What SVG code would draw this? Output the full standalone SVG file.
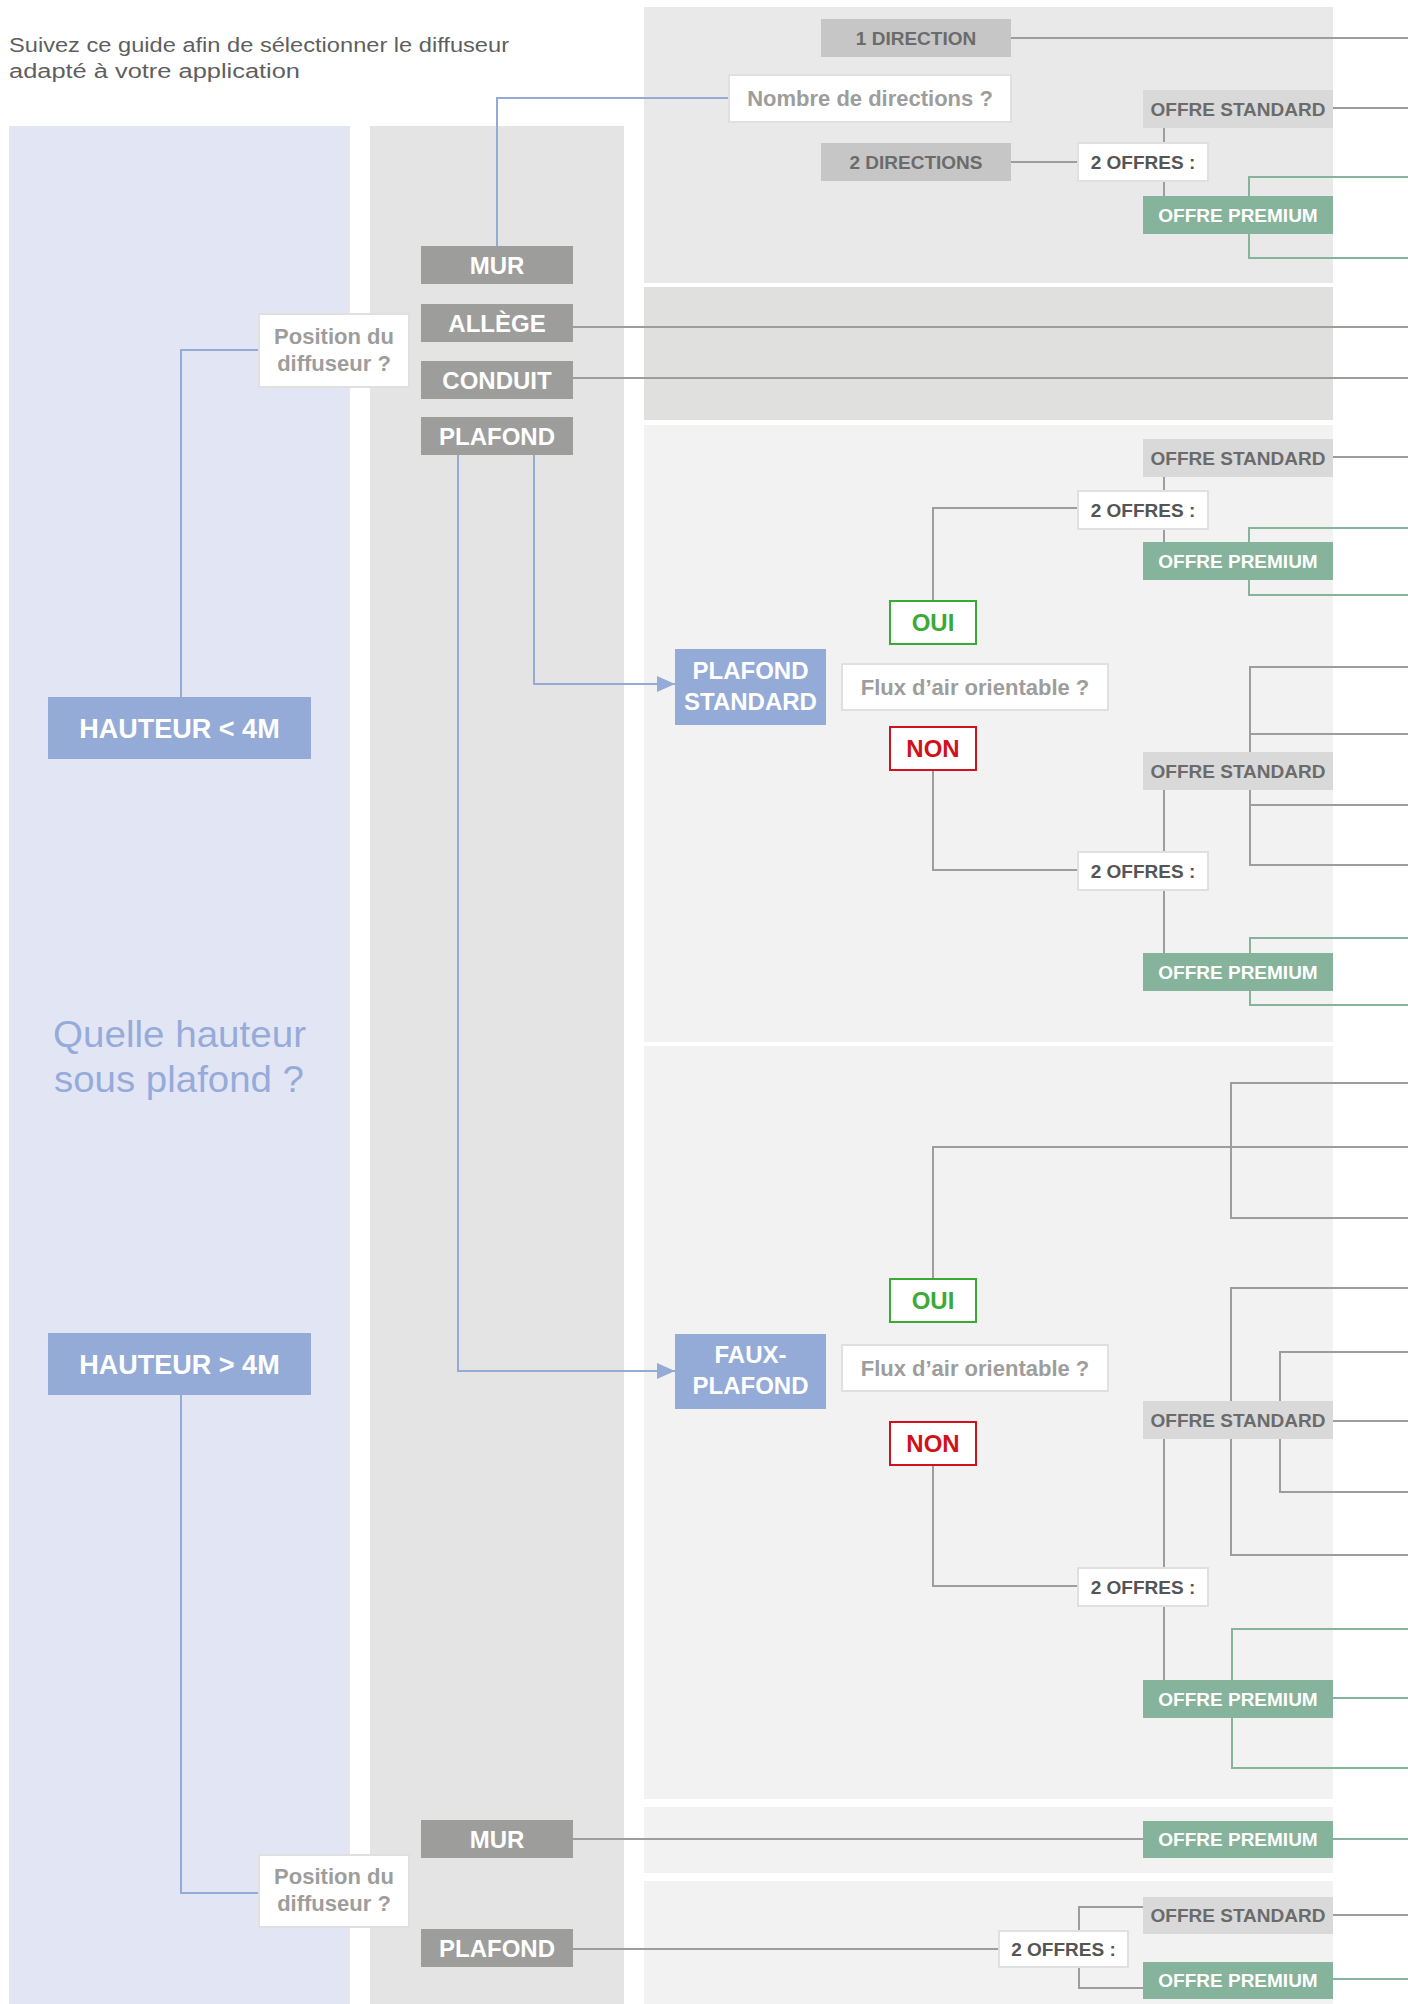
<svg xmlns="http://www.w3.org/2000/svg" width="1408" height="2004" viewBox="0 0 1408 2004">
<style>
.lbl{font-family:"Liberation Sans",Arial,sans-serif;font-weight:bold;text-anchor:middle}
.w24{font-size:24px;fill:#ffffff}
.w27{font-size:27px;fill:#ffffff}
.g19{font-size:19px;fill:#6b6b6b}
.d19{font-size:19px;fill:#555555}
.p19{font-size:19px;fill:#ffffff}
.q22{font-size:22px;fill:#9d9d9c}
.oui{font-size:24px;fill:#3baa35}
.non{font-size:24px;fill:#d0121b}
.dark{fill:#9d9d9c}
.light{fill:#c6c6c6}
.std{fill:#d9d9d9}
.prem{fill:#85b39b}
.blue{fill:#94abd8}
.qbox{fill:#ffffff;stroke:#e0e0e0;stroke-width:2}
.ybox{fill:#ffffff;stroke:#3baa35;stroke-width:2}
.nbox{fill:#ffffff;stroke:#d0121b;stroke-width:2}
.cb{fill:none;stroke:#94abd8;stroke-width:2}
.cg{fill:none;stroke:#9d9d9c;stroke-width:2}
.cv{fill:none;stroke:#85b39b;stroke-width:2}
.hdr{font-family:"Liberation Sans",Arial,sans-serif;font-size:20px;fill:#5f5f5f}
.big{font-family:"Liberation Sans",Arial,sans-serif;font-size:36px;fill:#96abd9}
</style>
<defs>
<marker id="arr" markerUnits="userSpaceOnUse" markerWidth="18" markerHeight="16" refX="18" refY="8" orient="auto">
<path d="M0,0 L18,8 L0,16 z" fill="#94abd8"/>
</marker>
</defs>
<rect x="0" y="0" width="1408" height="2004" fill="#ffffff"/>
<g id="panels">
<rect x="9" y="126" width="341" height="1878" fill="#e2e6f4"/>
<rect x="370" y="126" width="254" height="1878" fill="#e4e4e4"/>
<rect x="644" y="7" width="689" height="276" fill="#e9e9e9"/>
<rect x="644" y="287" width="689" height="133" fill="#e0e0df"/>
<rect x="644" y="425" width="689" height="617" fill="#f2f2f2"/>
<rect x="644" y="1046" width="689" height="753" fill="#f2f2f2"/>
<rect x="644" y="1807" width="689" height="66" fill="#f2f2f2"/>
<rect x="644" y="1881" width="689" height="123" fill="#f2f2f2"/>
</g>
<g id="header">
<text class="hdr" x="9" y="52" textLength="500" lengthAdjust="spacingAndGlyphs">Suivez ce guide afin de sélectionner le diffuseur</text>
<text class="hdr" x="9" y="78" textLength="291" lengthAdjust="spacingAndGlyphs">adapté à votre application</text>
<text class="big" x="53" y="1047" textLength="253" lengthAdjust="spacingAndGlyphs">Quelle hauteur</text>
<text class="big" x="54" y="1092" textLength="250" lengthAdjust="spacingAndGlyphs">sous plafond ?</text>
</g>
<g id="connectors">
<path class="cb" d="M729 98 H497 V246"/>
<path class="cb" d="M259 350 H181 V697"/>
<path class="cb" d="M181 1395 V1893 H259"/>
<path class="cb" d="M534 455 V684 H675" marker-end="url(#arr)"/>
<path class="cb" d="M458 455 V1371 H675" marker-end="url(#arr)"/>
<path class="cg" d="M1011 38 H1408"/>
<path class="cg" d="M1333 108 H1408"/>
<path class="cg" d="M1011 162 H1078"/>
<path class="cg" d="M1164 128 V143 M1164 181 V196"/>
<path class="cg" d="M573 327 H1408"/>
<path class="cg" d="M573 378 H1408"/>
<path class="cg" d="M1333 457 H1408"/>
<path class="cg" d="M1164 477 V491 M1164 529 V542"/>
<path class="cg" d="M1078 508 H933 V600"/>
<path class="cg" d="M933 771 V870 H1078"/>
<path class="cg" d="M1164 790 V852 M1164 890 V953"/>
<path class="cg" d="M1408 667 H1250 V865 H1408 M1250 734 H1408 M1250 805 H1408"/>
<path class="cg" d="M933 1278 V1147 H1408"/>
<path class="cg" d="M1408 1083 H1231 V1218 H1408"/>
<path class="cg" d="M1408 1288 H1231 V1555 H1408"/>
<path class="cg" d="M1408 1352 H1280 V1492 H1408"/>
<path class="cg" d="M1333 1421 H1408"/>
<path class="cg" d="M1164 1439 V1568 M1164 1606 V1680"/>
<path class="cg" d="M933 1465 V1586 H1078"/>
<path class="cg" d="M573 1839 H1143"/>
<path class="cg" d="M573 1949 H999"/>
<path class="cg" d="M1143 1907 H1079 V1988 H1143"/>
<path class="cg" d="M1333 1915 H1408"/>
<path class="cv" d="M1408 177 H1249 V258 H1408"/>
<path class="cv" d="M1408 528 H1249 V595 H1408"/>
<path class="cv" d="M1408 938 H1250 V1005 H1408"/>
<path class="cv" d="M1408 1629 H1232 V1768 H1408 M1333 1698 H1408"/>
<path class="cv" d="M1333 1839 H1408"/>
<path class="cv" d="M1333 1979 H1408"/>
</g>
<g id="mur1"><rect class="dark" x="421" y="246" width="152" height="38"/><text class="lbl w24" x="497" y="274">MUR</text></g>
<g id="allege"><rect class="dark" x="421" y="304" width="152" height="38"/><text class="lbl w24" x="497" y="332">ALLÈGE</text></g>
<g id="conduit"><rect class="dark" x="421" y="361" width="152" height="38"/><text class="lbl w24" x="497" y="389">CONDUIT</text></g>
<g id="plafond1"><rect class="dark" x="421" y="417" width="152" height="38"/><text class="lbl w24" x="497" y="445">PLAFOND</text></g>
<g id="mur2"><rect class="dark" x="421" y="1820" width="152" height="38"/><text class="lbl w24" x="497" y="1848">MUR</text></g>
<g id="plafond2"><rect class="dark" x="421" y="1929" width="152" height="38"/><text class="lbl w24" x="497" y="1957">PLAFOND</text></g>
<g id="position1"><rect class="qbox" x="259" y="314" width="150" height="73"/><text class="lbl q22" x="334" y="344">Position du</text><text class="lbl q22" x="334" y="371">diffuseur ?</text></g>
<g id="position2"><rect class="qbox" x="259" y="1855" width="150" height="72"/><text class="lbl q22" x="334" y="1884">Position du</text><text class="lbl q22" x="334" y="1911">diffuseur ?</text></g>
<g id="hauteur-inf"><rect class="blue" x="48" y="697" width="263" height="62"/><text class="lbl w27" x="179.5" y="738">HAUTEUR &lt; 4M</text></g>
<g id="hauteur-sup"><rect class="blue" x="48" y="1333" width="263" height="62"/><text class="lbl w27" x="179.5" y="1374">HAUTEUR &gt; 4M</text></g>
<g id="nombre"><rect class="qbox" x="729" y="75" width="282" height="47"/><text class="lbl q22" x="870" y="106">Nombre de directions ?</text></g>
<g id="dir1"><rect class="light" x="821" y="19" width="190" height="38"/><text class="lbl g19" x="916" y="45">1 DIRECTION</text></g>
<g id="dir2"><rect class="light" x="821" y="143" width="190" height="38"/><text class="lbl g19" x="916" y="169">2 DIRECTIONS</text></g>
<g id="offres-a"><rect class="qbox" x="1078" y="143" width="130" height="38"/><text class="lbl d19" x="1143" y="169">2 OFFRES :</text></g>
<g id="std-a"><rect class="std" x="1143" y="90" width="190" height="38"/><text class="lbl g19" x="1238" y="116">OFFRE STANDARD</text></g>
<g id="prem-a"><rect class="prem" x="1143" y="196" width="190" height="38"/><text class="lbl p19" x="1238" y="222">OFFRE PREMIUM</text></g>
<g id="plafond-standard"><rect class="blue" x="675" y="649" width="151" height="76"/><text class="lbl w24" x="750.5" y="679">PLAFOND</text><text class="lbl w24" x="750.5" y="710">STANDARD</text></g>
<g id="flux-a"><rect class="qbox" x="842" y="664" width="266" height="46"/><text class="lbl q22" x="975" y="695">Flux d’air orientable ?</text></g>
<g id="oui-a"><rect class="ybox" x="890" y="601" width="86" height="43"/><text class="lbl oui" x="933" y="631">OUI</text></g>
<g id="non-a"><rect class="nbox" x="890" y="727" width="86" height="43"/><text class="lbl non" x="933" y="757">NON</text></g>
<g id="offres-b"><rect class="qbox" x="1078" y="491" width="130" height="38"/><text class="lbl d19" x="1143" y="517">2 OFFRES :</text></g>
<g id="std-b"><rect class="std" x="1143" y="439" width="190" height="38"/><text class="lbl g19" x="1238" y="465">OFFRE STANDARD</text></g>
<g id="prem-b"><rect class="prem" x="1143" y="542" width="190" height="38"/><text class="lbl p19" x="1238" y="568">OFFRE PREMIUM</text></g>
<g id="offres-c"><rect class="qbox" x="1078" y="852" width="130" height="38"/><text class="lbl d19" x="1143" y="878">2 OFFRES :</text></g>
<g id="std-c"><rect class="std" x="1143" y="752" width="190" height="38"/><text class="lbl g19" x="1238" y="778">OFFRE STANDARD</text></g>
<g id="prem-c"><rect class="prem" x="1143" y="953" width="190" height="38"/><text class="lbl p19" x="1238" y="979">OFFRE PREMIUM</text></g>
<g id="faux-plafond"><rect class="blue" x="675" y="1334" width="151" height="75"/><text class="lbl w24" x="750.5" y="1363">FAUX-</text><text class="lbl w24" x="750.5" y="1394">PLAFOND</text></g>
<g id="flux-b"><rect class="qbox" x="842" y="1345" width="266" height="46"/><text class="lbl q22" x="975" y="1376">Flux d’air orientable ?</text></g>
<g id="oui-b"><rect class="ybox" x="890" y="1279" width="86" height="43"/><text class="lbl oui" x="933" y="1309">OUI</text></g>
<g id="non-b"><rect class="nbox" x="890" y="1422" width="86" height="43"/><text class="lbl non" x="933" y="1452">NON</text></g>
<g id="std-d"><rect class="std" x="1143" y="1401" width="190" height="38"/><text class="lbl g19" x="1238" y="1427">OFFRE STANDARD</text></g>
<g id="offres-d"><rect class="qbox" x="1078" y="1568" width="130" height="38"/><text class="lbl d19" x="1143" y="1594">2 OFFRES :</text></g>
<g id="prem-d"><rect class="prem" x="1143" y="1680" width="190" height="38"/><text class="lbl p19" x="1238" y="1706">OFFRE PREMIUM</text></g>
<g id="prem-e"><rect class="prem" x="1143" y="1821" width="190" height="37"/><text class="lbl p19" x="1238" y="1846">OFFRE PREMIUM</text></g>
<g id="offres-f"><rect class="qbox" x="999" y="1931" width="129" height="36"/><text class="lbl d19" x="1063.5" y="1956">2 OFFRES :</text></g>
<g id="std-f"><rect class="std" x="1143" y="1897" width="190" height="37"/><text class="lbl g19" x="1238" y="1922">OFFRE STANDARD</text></g>
<g id="prem-f"><rect class="prem" x="1143" y="1962" width="190" height="37"/><text class="lbl p19" x="1238" y="1987">OFFRE PREMIUM</text></g>
</svg>
